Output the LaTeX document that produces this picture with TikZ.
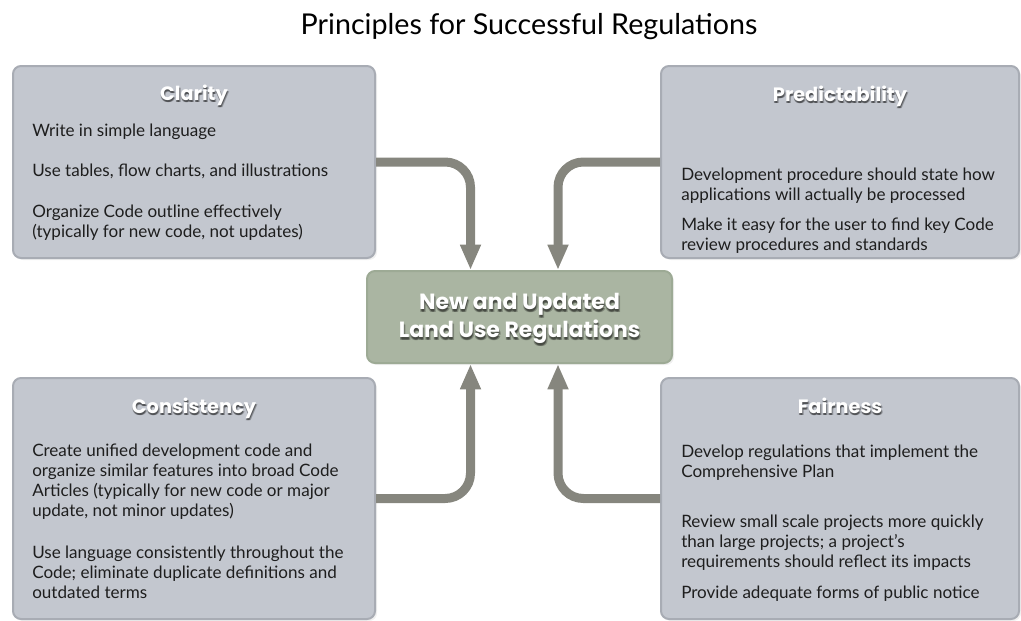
\documentclass[tikz,border=0pt]{standalone}
\usepackage{fontspec}
\setmainfont{Lato}
\newfontfamily\headfont{Poppins}
\usepackage{tikz}
\usetikzlibrary{positioning,calc,fit,arrows.meta,shadows}

\definecolor{panelfill}{HTML}{C3C7CF}
\definecolor{panelline}{HTML}{A8ACB4}
\definecolor{hubfill}{HTML}{AAB5A2}
\definecolor{hubline}{HTML}{9DAA95}
\definecolor{flowgray}{HTML}{86867E}
\definecolor{bodyink}{HTML}{1E1E1E}

\tikzset{
  panel/.style={draw=panelline, line width=1.5pt, fill=panelfill, rounded corners=6pt,
    inner sep=0pt, drop shadow={opacity=0.12, shadow xshift=1.5pt, shadow yshift=-1.5pt}},
  hub/.style={panel, draw=hubline, fill=hubfill},
  flow/.style={draw=flowgray, line width=6.75pt, rounded corners=19pt,
    -{Triangle[width=14.5pt,length=19pt]}},
  para/.style={anchor=north west, inner sep=0pt, align=left, text=bodyink,
    font=\fontsize{12.8}{15}\selectfont},
  head/.style={anchor=base, inner sep=0pt, text=white,
    font=\headfont\bfseries\fontsize{14.5}{17}\selectfont},
  headshade/.style={head, text=black, opacity=0.25},
  hubtext/.style={anchor=north, inner sep=0pt, align=center, text=white,
    font=\headfont\bfseries\fontsize{16.5}{21}\selectfont},
  hubtextshade/.style={hubtext, text=black, opacity=0.25}
}

% white label with a soft dark shadow
\newcommand{\glowlabel}[4]{%
  \foreach \dx/\dy [count=\k] in {0.5/2,1.5/2.5,0/2.5}
    \node[#2shade] (#1s\k) at ($(#3)+(\dx,\dy)$) {#4};
  \node[#2] (#1) at (#3) {#4};}

\begin{document}
\begin{tikzpicture}[x=0.75pt,y=-0.75pt]
\useasboundingbox (0,0) rectangle (1021,621);

\node[anchor=base, font=\fontsize{21.5}{25}\selectfont] (title) at (529,34)
  {Principles for Successful Regulations};

\node[panel, fit={(13,66) (375,258)}] (clarity) {};
\node[panel, fit={(661,66) (1019,258)}] (predict) {};
\node[panel, fit={(13,378) (375,619)}] (consist) {};
\node[panel, fit={(661,378) (1019,619)}] (fair) {};
\node[hub, fit={(367,271) (672,363)}] (hub) {};

\draw[flow] (clarity.east) -| ($(hub.north)+(-49,0)$);
\draw[flow] (predict.west) -| ($(hub.north)+(38.5,0)$);
\draw[flow] (consist.east) -| ($(hub.south)+(-49,0)$);
\draw[flow] (fair.west) -| ($(hub.south)+(38.5,0)$);

\glowlabel{clarityh}{head}{$(clarity.north)+(0,35)$}{Clarity}
\glowlabel{predicth}{head}{$(predict.north)+(0,36)$}{Predictability}
\glowlabel{consisth}{head}{$(consist.north)+(0,36)$}{Consistency}
\glowlabel{fairh}{head}{$(fair.north)+(0,36)$}{Fairness}
\glowlabel{hubt}{hubtext}{$(hub.center)+(0,-27)$}{\strut New and Updated\\Land Use Regulations}

\node[para] (c1) at (32,122) {\strut Write in simple language};
\node[para] (c2) at (32,162) {\strut Use tables, flow charts, and illustrations};
\node[para] (c3) at (32,203) {\strut Organize Code outline effectively\\(typically for new code, not updates)};

\node[para] (p1) at (681,166) {\strut Development procedure should state how\\applications will actually be processed};
\node[para] (p2) at (681,216) {\strut Make it easy for the user to find key Code\\review procedures and standards};

\node[para] (s1) at (32,442) {\strut Create unified development code and\\organize similar features into broad Code\\Articles (typically for new code or major\\update, not minor updates)};
\node[para] (s2) at (32,544) {\strut Use language consistently throughout the\\Code; eliminate duplicate definitions and\\outdated terms};

\node[para] (f1) at (681,443) {\strut Develop regulations that implement the\\Comprehensive Plan};
\node[para] (f2) at (681,513) {\strut Review small scale projects more quickly\\than large projects; a project's\\requirements should reflect its impacts};
\node[para] (f3) at (681,584) {\strut Provide adequate forms of public notice};
\end{tikzpicture}
\end{document}
